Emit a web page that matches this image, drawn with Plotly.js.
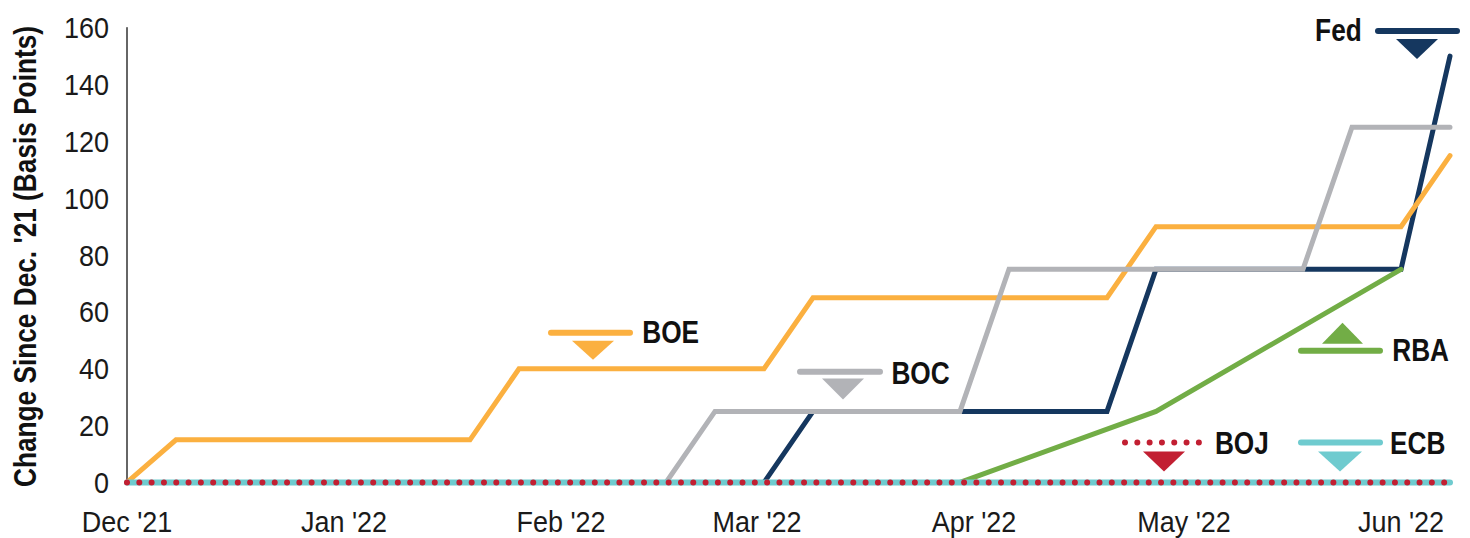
<!DOCTYPE html>
<html>
<head>
<meta charset="utf-8">
<script src="https://cdn.plot.ly/plotly-3.0.1.min.js"></script>
<style>
  html, body { margin: 0; padding: 0; background: #fff; }
  #chart { width: 1470px; height: 538px; }
</style>
</head>
<body>
<div id="chart"></div>
<script>
// ---------------- DATA ----------------
const weeks = [
  '2021-12-01','2021-12-08','2021-12-15','2021-12-22','2021-12-29',
  '2022-01-05','2022-01-12','2022-01-19','2022-01-26',
  '2022-02-02','2022-02-09','2022-02-16','2022-02-23',
  '2022-03-02','2022-03-09','2022-03-16','2022-03-23','2022-03-30',
  '2022-04-06','2022-04-13','2022-04-20','2022-04-27',
  '2022-05-04','2022-05-11','2022-05-18','2022-05-25',
  '2022-06-01','2022-06-08'
];
const boe = [0,15,15,15,15,15,15,15,40,40,40,40,40,40,65,65,65,65,65,65,65,90,90,90,90,90,90,115];
const boc = [0,0,0,0,0,0,0,0,0,0,0,0,25,25,25,25,25,25,75,75,75,75,75,75,75,125,125,125];
const fed = [0,0,0,0,0,0,0,0,0,0,0,0,0,0,25,25,25,25,25,25,25,75,75,75,75,75,75,150];
const ecb = [0,0,0,0,0,0,0,0,0,0,0,0,0,0,0,0,0,0,0,0,0,0,0,0,0,0,0,0];
const boj = [0,0,0,0,0,0,0,0,0,0,0,0,0,0,0,0,0,0,0,0,0,0,0,0,0,0,0,0];
const rbaDates = ['2021-12-01','2022-03-30','2022-04-27','2022-06-01'];
const rba = [0,0,25,75];

const yTicks = [0,20,40,60,80,100,120,140,160];
const yTitle = "Change Since Dec. '21 (Basis Points)";

// ---------------- STYLE ----------------
const C = {
  boe: '#FBB040', boc: '#B2B3B7', fed: '#15375F',
  rba: '#72AD46', ecb: '#6FCBCF', boj: '#C21F32'
};
const FONT = "'Liberation Sans', Arial, sans-serif";
const W = 1470, H = 538;
const M = { l: 120, r: 13, t: 22, b: 46.5 };
const PW = W - M.l - M.r, PH = H - M.t - M.b;
const px = v => (v - M.l) / PW;
const py = v => (H - M.b - v) / PH;

function line(name, x, y, color, width) {
  return { type: 'scatter', mode: 'lines', name, x, y,
    line: { color, width, shape: 'linear' }, hoverinfo: 'skip', showlegend: false };
}

const traces = [
  line('Fed', weeks, fed, C.fed, 5),
  line('BOE', weeks, boe, C.boe, 5),
  line('BOC', weeks, boc, C.boc, 5),
  line('RBA', rbaDates, rba, C.rba, 5),
  line('ECB', weeks, ecb, C.ecb, 6),
  line('BOJ', weeks, boj, C.boj, 6)
];
const BOJ_TRACE = 5;

// legend-like labels drawn at pixel positions (text centre x, centre y)
const keys = [
  { label: 'Fed', color: C.fed, text: [1338, 30], seg: [1378, 1457, 31], tri: [1396, 1438, 39, 59] },
  { label: 'BOE', color: C.boe, text: [670, 332], seg: [551, 630, 333], tri: [572, 614, 341, 360] },
  { label: 'BOC', color: C.boc, text: [920, 373], seg: [800, 880, 372], tri: [822, 864, 379, 400] },
  { label: 'RBA', color: C.rba, text: [1420, 350], seg: [1301, 1380, 351], tri: [1322, 1363, 344, 323] },
  { label: 'BOJ', color: C.boj, text: [1242, 443], seg: [1125, 1200, 443], tri: [1143, 1185, 452, 472], dotted: true },
  { label: 'ECB', color: C.ecb, text: [1418, 443], seg: [1301, 1380, 443], tri: [1318, 1362, 452, 472] }
];

const shapes = [{
  type: 'line', xref: 'x', yref: 'y', x0: weeks[0], x1: weeks[0], y0: 0, y1: 160,
  line: { color: '#333333', width: 1.5 }, layer: 'below'
}];
const annotations = [];
let bojShapeIndex = -1;
keys.forEach(k => {
  const s = {
    type: 'line', xref: 'paper', yref: 'paper',
    x0: px(k.seg[0]), x1: px(k.seg[1]), y0: py(k.seg[2]), y1: py(k.seg[2]),
    line: { color: k.color, width: 6 }
  };
  if (k.dotted) bojShapeIndex = shapes.length;
  shapes.push(s);
  const [a, b, top, apex] = k.tri;
  const mid = (a + b) / 2;
  shapes.push({
    type: 'path', xref: 'paper', yref: 'paper',
    path: `M ${px(a)},${py(top)} L ${px(b)},${py(top)} L ${px(mid)},${py(apex)} Z`,
    fillcolor: k.color, line: { width: 0 }
  });
  annotations.push({
    xref: 'paper', yref: 'paper', x: px(k.text[0]), y: py(k.text[1]),
    xanchor: 'center', yanchor: 'middle', showarrow: false, text: k.label,
    font: { family: FONT, size: 32, color: '#111111', weight: 'bold' }
  });
});

const layout = {
  width: W, height: H, margin: M,
  paper_bgcolor: '#ffffff', plot_bgcolor: '#ffffff',
  showlegend: false,
  font: { family: FONT, color: '#1a1a1a' },
  xaxis: {
    type: 'date', range: ['2021-11-30', '2022-06-09'],
    tick0: '2021-12-01', dtick: 'M1', tickformat: "%b '%y",
    showgrid: false, zeroline: false, showline: false, ticks: '',
    tickfont: { family: FONT, size: 30, color: '#1a1a1a' },
    ticklabelstandoff: 10, automargin: false
  },
  yaxis: {
    range: [-3, 162], tickvals: yTicks,
    showgrid: false, zeroline: false, showline: false, ticks: '',
    tickfont: { family: FONT, size: 30, color: '#1a1a1a' },
    ticklabelstandoff: 10, automargin: false,
    title: { text: yTitle, standoff: 12,
      font: { family: FONT, size: 32, color: '#111111', weight: 'bold' } }
  },
  shapes, annotations
};

// narrow the glyphs along the reading direction, keeping each text's anchor point
function condense(el, s) {
  const x = parseFloat(el.getAttribute('x')) || 0;
  const y = parseFloat(el.getAttribute('y')) || 0;
  const t = el.getAttribute('transform') || '';
  el.setAttribute('transform', `${t} translate(${x},${y}) scale(${s},1) translate(${-x},${-y})`);
}

Plotly.newPlot('chart', traces, layout, { staticPlot: true, displayModeBar: false }).then(() => {
  document.querySelectorAll('.scatterlayer .trace path.js-line').forEach(p => {
    p.style.strokeLinecap = 'round';
  });
  const tr = document.querySelectorAll('.scatterlayer .trace')[BOJ_TRACE];
  if (tr) tr.querySelectorAll('path.js-line').forEach(p => {
    p.style.strokeDasharray = '0.01px 12.3px';
    p.style.strokeLinecap = 'round';
  });
  document.querySelectorAll('.shapelayer path').forEach(p => {
    p.style.strokeLinecap = 'round';
    if (+p.getAttribute('data-index') === bojShapeIndex) {
      p.style.strokeDasharray = '0.01px 12.3px';
    }
  });
  document.querySelectorAll('.annotation-text').forEach(t => condense(t, 0.82));
  document.querySelectorAll('.g-ytitle text, .ytitle').forEach(t => condense(t, 0.82));
  document.querySelectorAll('.xtick text, .ytick text').forEach(t => condense(t, 0.9));
});
</script>
</body>
</html>
